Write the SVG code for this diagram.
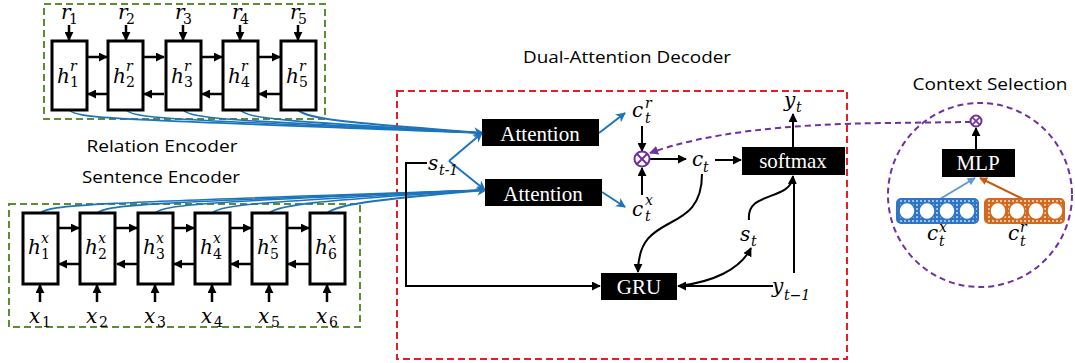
<svg xmlns="http://www.w3.org/2000/svg" width="1075" height="363" viewBox="0 0 1075 363">
  <style>
    .cell { fill: #fff; stroke: #000; stroke-width: 3; }
    .blk { fill: #000; }
    .btxt { font-family: "Liberation Serif", serif; font-size: 21px; fill: #fff; text-anchor: middle; }
    .cap { font-family: "Open Sans", "Liberation Sans", sans-serif; font-size: 16px; fill: #000; text-anchor: middle; }
    .m { font-family: "DejaVu Serif", "Liberation Serif", serif; font-style: italic; font-size: 20px; fill: #000; }
    .s { font-size: 14px; }
    .up { font-style: normal; }
    .ar { stroke: #000; stroke-width: 2.5; fill: none; marker-end: url(#ab); }
    .ln { stroke: #000; stroke-width: 2; fill: none; }
    .dl { stroke: #000; stroke-width: 2; fill: none; marker-end: url(#ab); }
    .bl { stroke: #1c75bc; stroke-width: 1.6; fill: none; }
    .bla { stroke: #1c75bc; stroke-width: 2; fill: none; marker-end: url(#abl); }
    .gbox { fill: none; stroke: #5e8c31; stroke-width: 2; stroke-dasharray: 7 4; }
    .rbox { fill: none; stroke: #e31e24; stroke-width: 2; stroke-dasharray: 7 4; }
    .pur { fill: none; stroke: #7030a0; stroke-width: 2; stroke-dasharray: 6 4; }
    .otimes { fill: #fff; stroke: #7030a0; stroke-width: 2; }
  </style>
  <defs>
    <marker id="ab" viewBox="0 0 10 10" refX="9" refY="5" markerWidth="9" markerHeight="9" markerUnits="userSpaceOnUse" orient="auto">
      <path d="M0,0 L10,5 L0,10 z" fill="#000"/>
    </marker>
    <marker id="abl" viewBox="0 0 10 10" refX="9" refY="5" markerWidth="10" markerHeight="10" markerUnits="userSpaceOnUse" orient="auto">
      <path d="M0,0 L10,5 L0,10 L3,5 z" fill="#1c75bc"/>
    </marker>
    <marker id="apu" viewBox="0 0 10 10" refX="9" refY="5" markerWidth="9" markerHeight="9" markerUnits="userSpaceOnUse" orient="auto">
      <path d="M0,0 L10,5 L0,10 z" fill="#7030a0"/>
    </marker>
    <marker id="alb" viewBox="0 0 10 10" refX="9" refY="5" markerWidth="8" markerHeight="8" markerUnits="userSpaceOnUse" orient="auto">
      <path d="M0,0 L10,5 L0,10 z" fill="#5b9bd5"/>
    </marker>
    <marker id="aor" viewBox="0 0 10 10" refX="9" refY="5" markerWidth="8" markerHeight="8" markerUnits="userSpaceOnUse" orient="auto">
      <path d="M0,0 L10,5 L0,10 z" fill="#c55a11"/>
    </marker>
    <pattern id="dotB" width="4" height="4" patternUnits="userSpaceOnUse">
      <rect width="4" height="4" fill="#2e75c6"/>
      <rect width="2" height="2" fill="#9cc3ec"/>
    </pattern>
    <pattern id="dotO" width="4" height="4" patternUnits="userSpaceOnUse">
      <rect width="4" height="4" fill="#d2691e"/>
      <rect width="2" height="2" fill="#f3c9a5"/>
    </pattern>
  </defs>

  <!-- frames and captions -->
  <rect class="gbox" x="44" y="4" width="281" height="115"/>
  <rect class="gbox" x="9" y="204" width="351" height="123"/>
  <rect class="rbox" x="397" y="91" width="450" height="268"/>
  <circle cx="980" cy="195" r="92" class="pur"/>
  <text class="cap" x="162" y="152" textLength="151" lengthAdjust="spacingAndGlyphs">Relation Encoder</text>
  <text class="cap" x="161" y="183" textLength="158" lengthAdjust="spacingAndGlyphs">Sentence Encoder</text>
  <text class="cap" x="627" y="63" textLength="208" lengthAdjust="spacingAndGlyphs">Dual-Attention Decoder</text>
  <text class="cap" x="990" y="90" textLength="155" lengthAdjust="spacingAndGlyphs">Context Selection</text>

  <!-- connectors -->
  <g id="connectors">
    <!-- relation encoder states to first attention -->
    <path class="bl" d="M69,110 C79,119 110,119 483,133"/>
    <path class="bl" d="M126,110 C136,119 167,119 483,133"/>
    <path class="bl" d="M183,110 C193,119 224,120 483,133"/>
    <path class="bl" d="M240,110 C250,119 281,121 483,133"/>
    <path class="bla" d="M298,110 C308,119 339,122 483,133"/>
    <!-- sentence encoder states to second attention -->
    <path class="bl" d="M40,213 C50,205 80,203 486,190"/>
    <path class="bl" d="M97,213 C107,205 137,203 486,190"/>
    <path class="bl" d="M155,213 C165,205 195,202 486,190"/>
    <path class="bl" d="M212,213 C222,205 252,202 486,190"/>
    <path class="bl" d="M269,213 C279,205 309,201 486,190"/>
    <path class="bla" d="M327,213 C337,205 367,200 486,190"/>

    <!-- relation encoder recurrence -->
    <path class="ar" d="M69,25 V40"/>
    <path class="ar" d="M126,25 V40"/>
    <path class="ar" d="M183,25 V40"/>
    <path class="ar" d="M240,25 V40"/>
    <path class="ar" d="M298,25 V40"/>
    <path class="ar" d="M87,57 H107"/>
    <path class="ar" d="M143,57 H164"/>
    <path class="ar" d="M201,57 H222"/>
    <path class="ar" d="M258,57 H280"/>
    <path class="ar" d="M107,94 H88"/>
    <path class="ar" d="M164,94 H144"/>
    <path class="ar" d="M222,94 H202"/>
    <path class="ar" d="M280,94 H259"/>

    <!-- sentence encoder recurrence -->
    <path class="ar" d="M40,302 V285"/>
    <path class="ar" d="M97,302 V285"/>
    <path class="ar" d="M155,302 V285"/>
    <path class="ar" d="M212,302 V285"/>
    <path class="ar" d="M269,302 V285"/>
    <path class="ar" d="M327,302 V285"/>
    <path class="ar" d="M58,228 H79"/>
    <path class="ar" d="M116,228 H137"/>
    <path class="ar" d="M173,228 H194"/>
    <path class="ar" d="M230,228 H251"/>
    <path class="ar" d="M287,228 H309"/>
    <path class="ar" d="M79,264 H59"/>
    <path class="ar" d="M137,264 H117"/>
    <path class="ar" d="M194,264 H174"/>
    <path class="ar" d="M251,264 H231"/>
    <path class="ar" d="M309,264 H288"/>

    <!-- decoder -->
    <path class="bla" d="M449,161 L482,133"/>
    <path class="bla" d="M449,161 L485,190"/>
    <path class="bla" d="M599,133 L625,113"/>
    <path class="bla" d="M602,192 L625,207"/>
    <path class="dl" d="M427,163 H406 V286 H600"/>
    <path class="dl" d="M642,126 V151"/>
    <path class="dl" d="M642,195 V168"/>
    <path class="dl" d="M650,159 H686"/>
    <path class="dl" d="M715,160 H741"/>
    <path class="dl" d="M793,147 V114"/>
    <path class="dl" d="M702,174 C702,238 638,208 638,272"/>
    <path class="dl" d="M773,286 H678"/>
    <path class="dl" d="M679,286 C712,282 740,270 751,248"/>
    <path class="ln" d="M794,273 V180"/>
    <path class="dl" d="M749,220 C746,190 791,202 793,176"/>

    <!-- context gate -->
    <path class="pur" d="M971,122 L890,123 Q730,124 650,153" marker-end="url(#apu)"/>
    <path d="M976,149 V128" class="dl"/>
    <path d="M940,199 L975,178" stroke="#5b9bd5" stroke-width="2" fill="none" marker-end="url(#alb)"/>
    <path d="M1023,199 L980,178" stroke="#c55a11" stroke-width="2" fill="none" marker-end="url(#aor)"/>
  </g>

  <!-- relation encoder cells -->
  <g id="hr1"><rect class="cell" x="52" y="41" width="35" height="69"/><text class="m" x="57" y="83">h</text><text class="m s" x="70" y="71">r</text><text class="m s up" x="70" y="87">1</text></g>
  <g id="hr2"><rect class="cell" x="108" y="41" width="35" height="69"/><text class="m" x="113" y="83">h</text><text class="m s" x="126" y="71">r</text><text class="m s up" x="126" y="87">2</text></g>
  <g id="hr3"><rect class="cell" x="166" y="41" width="35" height="69"/><text class="m" x="171" y="83">h</text><text class="m s" x="184" y="71">r</text><text class="m s up" x="184" y="87">3</text></g>
  <g id="hr4"><rect class="cell" x="223" y="41" width="35" height="69"/><text class="m" x="228" y="83">h</text><text class="m s" x="241" y="71">r</text><text class="m s up" x="241" y="87">4</text></g>
  <g id="hr5"><rect class="cell" x="281" y="41" width="35" height="69"/><text class="m" x="286" y="83">h</text><text class="m s" x="299" y="71">r</text><text class="m s up" x="299" y="87">5</text></g>
  <g id="r-inputs">
    <text class="m" x="61" y="19" font-size="19">r</text><text class="m s up" x="69" y="24">1</text>
    <text class="m" x="118" y="19" font-size="19">r</text><text class="m s up" x="126" y="24">2</text>
    <text class="m" x="175" y="19" font-size="19">r</text><text class="m s up" x="183" y="24">3</text>
    <text class="m" x="232" y="19" font-size="19">r</text><text class="m s up" x="240" y="24">4</text>
    <text class="m" x="290" y="19" font-size="19">r</text><text class="m s up" x="298" y="24">5</text>
  </g>

  <!-- sentence encoder cells -->
  <g id="hx1"><rect class="cell" x="23" y="213" width="35" height="71"/><text class="m" x="28" y="254">h</text><text class="m s" x="41" y="243">x</text><text class="m s up" x="41" y="259">1</text></g>
  <g id="hx2"><rect class="cell" x="80" y="213" width="35" height="71"/><text class="m" x="85" y="254">h</text><text class="m s" x="98" y="243">x</text><text class="m s up" x="98" y="259">2</text></g>
  <g id="hx3"><rect class="cell" x="138" y="213" width="35" height="71"/><text class="m" x="143" y="254">h</text><text class="m s" x="156" y="243">x</text><text class="m s up" x="156" y="259">3</text></g>
  <g id="hx4"><rect class="cell" x="195" y="213" width="35" height="71"/><text class="m" x="200" y="254">h</text><text class="m s" x="213" y="243">x</text><text class="m s up" x="213" y="259">4</text></g>
  <g id="hx5"><rect class="cell" x="252" y="213" width="35" height="71"/><text class="m" x="257" y="254">h</text><text class="m s" x="270" y="243">x</text><text class="m s up" x="270" y="259">5</text></g>
  <g id="hx6"><rect class="cell" x="310" y="213" width="35" height="71"/><text class="m" x="315" y="254">h</text><text class="m s" x="328" y="243">x</text><text class="m s up" x="328" y="259">6</text></g>
  <g id="x-inputs">
    <text class="m" x="29" y="323">x</text><text class="m s up" x="42" y="327">1</text>
    <text class="m" x="86" y="323">x</text><text class="m s up" x="99" y="327">2</text>
    <text class="m" x="144" y="323">x</text><text class="m s up" x="157" y="327">3</text>
    <text class="m" x="201" y="323">x</text><text class="m s up" x="214" y="327">4</text>
    <text class="m" x="258" y="323">x</text><text class="m s up" x="271" y="327">5</text>
    <text class="m" x="316" y="323">x</text><text class="m s up" x="329" y="327">6</text>
  </g>

  <!-- decoder blocks -->
  <g id="att-r"><rect class="blk" x="482" y="119" width="117" height="27"/><text class="btxt" x="540" y="141">Attention</text></g>
  <g id="att-x"><rect class="blk" x="485" y="179" width="117" height="27"/><text class="btxt" x="543" y="201">Attention</text></g>
  <g id="softmax"><rect class="blk" x="742" y="147" width="103" height="28"/><text class="btxt" x="793" y="168">softmax</text></g>
  <g id="gru"><rect class="blk" x="601" y="273" width="76" height="27"/><text class="btxt" x="639" y="294">GRU</text></g>
  <g id="gate"><circle class="otimes" cx="642" cy="159" r="7.5"/><path d="M636.7,153.7 L647.3,164.3 M647.3,153.7 L636.7,164.3" stroke="#7030a0" stroke-width="2"/></g>

  <!-- decoder labels -->
  <g id="dec-labels">
    <text class="m" x="428" y="170">s</text><text class="m s" x="439" y="175">t-1</text>
    <text class="m" x="632" y="117" font-size="21">c</text><text class="m s" x="645" y="108">r</text><text class="m s" x="645" y="123">t</text>
    <text class="m" x="632" y="216" font-size="21">c</text><text class="m s" x="645" y="205">x</text><text class="m s" x="645" y="221">t</text>
    <text class="m" x="692" y="166" font-size="21">c</text><text class="m s" x="703" y="172">t</text>
    <text class="m" x="784" y="107">y</text><text class="m s" x="796" y="112">t</text>
    <text class="m" x="740" y="241">s</text><text class="m s" x="751" y="246">t</text>
    <text class="m" x="772" y="293">y</text><text class="m s" x="784" y="300">t−1</text>
  </g>

  <!-- context selection -->
  <g id="mlp"><rect class="blk" x="942" y="149" width="73" height="28"/><text class="btxt" x="978" y="170">MLP</text></g>
  <g id="mlp-gate"><circle class="otimes" cx="976" cy="121" r="5.5"/><path d="M972.1,117.1 L979.9,124.9 M979.9,117.1 L972.1,124.9" stroke="#7030a0" stroke-width="1.6"/></g>
  <g id="vec-x">
    <rect x="897" y="199" width="81" height="24" rx="4" fill="url(#dotB)" stroke="#2e75c6" stroke-width="2"/>
    <g fill="#fff" stroke="#2e75c6" stroke-width="1.5">
      <ellipse cx="907" cy="211" rx="8" ry="8.5"/><ellipse cx="927" cy="211" rx="8" ry="8.5"/><ellipse cx="947" cy="211" rx="8" ry="8.5"/><ellipse cx="967" cy="211" rx="8" ry="8.5"/>
    </g>
    <text class="m" x="927" y="240" font-size="21">c</text><text class="m s" x="939" y="232">x</text><text class="m s" x="939" y="246">t</text>
  </g>
  <g id="vec-r">
    <rect x="985" y="199" width="79" height="24" rx="4" fill="url(#dotO)" stroke="#d2691e" stroke-width="2"/>
    <g fill="#fff" stroke="#d2691e" stroke-width="1.5">
      <ellipse cx="998" cy="211" rx="8" ry="8.5"/><ellipse cx="1017" cy="211" rx="8" ry="8.5"/><ellipse cx="1036" cy="211" rx="8" ry="8.5"/><ellipse cx="1055" cy="211" rx="8" ry="8.5"/>
    </g>
    <text class="m" x="1008" y="240" font-size="21">c</text><text class="m s" x="1020" y="232">r</text><text class="m s" x="1020" y="246">t</text>
  </g>
</svg>
